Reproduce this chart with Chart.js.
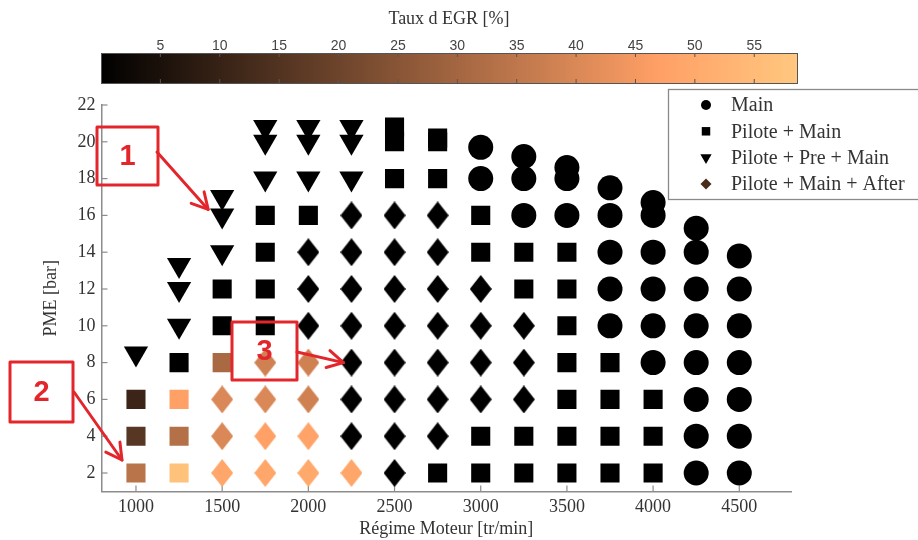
<!DOCTYPE html>
<html>
<head>
<meta charset="utf-8">
<script src="https://cdn.jsdelivr.net/npm/chart.js@4.4.1/dist/chart.umd.min.js"></script>
<style>
  html, body { margin: 0; padding: 0; background: #fff; }
  canvas { display: block; }
</style>
</head>
<body>
<canvas id="myChart" width="918" height="540" style="width:918px;height:540px"></canvas>
<script>
// injection strategies
const seriesNames = ['Main', 'Pilote + Main', 'Pilote + Pre + Main', 'Pilote + Main + After'];

// Main (circles)
const mainRpm = [3000, 3000,
  3250, 3250, 3250,
  3500, 3500, 3500,
  3750, 3750, 3750, 3750, 3750,
  4000, 4000, 4000, 4000, 4000, 4000,
  4250, 4250, 4250, 4250, 4250, 4250, 4250, 4250,
  4500, 4500, 4500, 4500, 4500, 4500, 4500];
const mainPme = [18, 19.7,
  16, 18, 19.2,
  16, 18, 18.6,
  10, 12, 14, 16, 17.5,
  8, 10, 12, 14, 16, 16.7,
  2, 4, 6, 8, 10, 12, 14, 15.3,
  2, 4, 6, 8, 10, 12, 13.8];
const mainEgr = [0, 0,
  0, 0, 0,
  0, 0, 0,
  0, 0, 0, 0, 0,
  0, 0, 0, 0, 0, 0,
  0, 0, 0, 0, 0, 0, 0, 0,
  0, 0, 0, 0, 0, 0, 0];

// Pilote + Main (squares)
const pmRpm = [1000, 1000, 1000,
  1250, 1250, 1250, 1250,
  1500, 1500, 1500,
  1750, 1750, 1750, 1750,
  2000,
  2500, 2500, 2500,
  2750, 2750, 2750, 2750,
  3000, 3000, 3000, 3000,
  3250, 3250, 3250, 3250,
  3500, 3500, 3500, 3500, 3500, 3500, 3500,
  3750, 3750, 3750, 3750,
  4000, 4000, 4000];
const pmPme = [2, 4, 6,
  2, 4, 6, 8,
  8, 10, 12,
  10, 12, 14, 16,
  16,
  18, 20, 20.8,
  2, 18, 20, 20.2,
  2, 4, 14, 16,
  2, 4, 12, 14,
  2, 4, 6, 8, 10, 12, 14,
  2, 4, 6, 8,
  2, 4, 6];
const pmEgr = [34, 16, 11,
  57, 33, 47, 0,
  31, 0, 0,
  0, 0, 0, 0,
  0,
  0, 0, 0,
  0, 0, 0, 0,
  0, 0, 0, 0,
  0, 0, 0, 0,
  0, 0, 0, 0, 0, 0, 0,
  0, 0, 0, 0,
  0, 0, 0];

// Pilote + Pre + Main (triangles)
const ppmRpm = [1000,
  1250, 1250, 1250,
  1500, 1500, 1500,
  1750, 1750, 1750,
  2000, 2000, 2000,
  2250, 2250, 2250];
const ppmPme = [8.5,
  10, 12, 13.3,
  14, 16, 17,
  18, 20, 20.8,
  18, 20, 20.8,
  18, 20, 20.8];
const ppmEgr = [0,
  0, 0, 0,
  0, 0, 0,
  0, 0, 0,
  0, 0, 0,
  0, 0, 0];

// Pilote + Main + After (diamonds)
const pmaRpm = [1500, 1500, 1500,
  1750, 1750, 1750, 1750,
  2000, 2000, 2000, 2000, 2000, 2000, 2000,
  2250, 2250, 2250, 2250, 2250, 2250, 2250, 2250,
  2500, 2500, 2500, 2500, 2500, 2500, 2500, 2500,
  2750, 2750, 2750, 2750, 2750, 2750, 2750,
  3000, 3000, 3000, 3000,
  3250, 3250, 3250];
const pmaPme = [2, 4, 6,
  2, 4, 6, 8,
  2, 4, 6, 8, 10, 12, 14,
  2, 4, 6, 8, 10, 12, 14, 16,
  2, 4, 6, 8, 10, 12, 14, 16,
  4, 6, 8, 10, 12, 14, 16,
  6, 8, 10, 12,
  6, 8, 10];
const pmaEgr = [49, 40, 40,
  49, 47, 40, 38,
  50, 48, 38, 38, 0, 0, 0,
  49, 0, 0, 0, 0, 0, 0, 0,
  0, 0, 0, 0, 0, 0, 0, 0,
  0, 0, 0, 0, 0, 0, 0,
  0, 0, 0, 0,
  0, 0, 0];

const xTicks = [1000, 1500, 2000, 2500, 3000, 3500, 4000, 4500];
const yTicks = [2, 4, 6, 8, 10, 12, 14, 16, 18, 20, 22];
const cbarTicks = [5, 10, 15, 20, 25, 30, 35, 40, 45, 50, 55];
const egrMax = 58.6;

const serif = 'Liberation Serif, Times New Roman, serif';
const red = '#e3262b';

// matlab "copper" colormap
function copper(v) {
  const t = Math.max(0, Math.min(1, v / egrMax));
  const r = Math.round(255 * Math.min(1, 1.25 * t));
  const g = Math.round(255 * 0.7812 * t);
  const b = Math.round(255 * 0.4975 * t);
  return 'rgb(' + r + ',' + g + ',' + b + ')';
}

function pts(rpm, pme) {
  return rpm.map((x, i) => ({x: x, y: pme[i]}));
}

const diamondCache = {};
function diamond(color) {
  if (!diamondCache[color]) {
    const c = document.createElement('canvas');
    c.width = 22; c.height = 28;
    const g = c.getContext('2d');
    g.fillStyle = color;
    g.beginPath();
    g.moveTo(11, 0); g.lineTo(22, 14); g.lineTo(11, 28); g.lineTo(0, 14);
    g.closePath();
    g.fill();
    diamondCache[color] = c;
  }
  return diamondCache[color];
}

// inward tick marks like the matlab axes
const inTicks = {
  id: 'inTicks',
  beforeDatasetsDraw(chart) {
    const {ctx, chartArea: a, scales: {x, y}} = chart;
    ctx.save();
    ctx.strokeStyle = '#8c8c8c';
    ctx.lineWidth = 1.2;
    x.ticks.forEach(t => {
      const px = x.getPixelForValue(t.value);
      ctx.beginPath(); ctx.moveTo(px, a.bottom); ctx.lineTo(px, a.bottom - 6); ctx.stroke();
    });
    y.ticks.forEach(t => {
      const py = y.getPixelForValue(t.value);
      ctx.beginPath(); ctx.moveTo(a.left, py); ctx.lineTo(a.left + 6, py); ctx.stroke();
    });
    ctx.restore();
  }
};

// colour bar on top
const colorBar = {
  id: 'colorBar',
  afterDraw(chart) {
    const ctx = chart.ctx;
    const L = 101, R = 797, T = 53, B = 83;
    ctx.save();
    for (let px = L; px < R; px++) {
      ctx.fillStyle = copper((px - L + 0.5) / (R - L) * egrMax);
      ctx.fillRect(px, T, 1.2, B - T);
    }
    ctx.strokeStyle = '#555';
    ctx.lineWidth = 1;
    ctx.strokeRect(L + 0.5, T + 0.5, R - L, B - T);
    ctx.fillStyle = '#444';
    ctx.font = '14px Liberation Sans, Arial, sans-serif';
    ctx.textAlign = 'center';
    ctx.textBaseline = 'middle';
    cbarTicks.forEach(v => {
      const px = L + v / egrMax * (R - L);
      ctx.beginPath();
      ctx.moveTo(px, T); ctx.lineTo(px, T + 4);
      ctx.moveTo(px, B); ctx.lineTo(px, B - 4);
      ctx.stroke();
      ctx.fillText(String(v), px, 46);
    });
    ctx.fillStyle = '#333';
    ctx.font = '18px ' + serif;
    ctx.fillText('Taux d EGR [%]', 449, 19);
    ctx.restore();
  }
};

// boxed legend, top right
const boxLegend = {
  id: 'boxLegend',
  afterDraw(chart) {
    const ctx = chart.ctx;
    const styles = [
      {pointStyle: 'circle', radius: 5, rotation: 0, color: '#000'},
      {pointStyle: 'rect', radius: 6, rotation: 0, color: '#000'},
      {pointStyle: 'triangle', radius: 6.5, rotation: 180, color: '#000'},
      {pointStyle: 'rectRot', radius: 5.5, rotation: 0, color: '#4a2c1c'}
    ];
    ctx.save();
    ctx.fillStyle = '#fff';
    ctx.fillRect(668, 89, 262, 110);
    ctx.strokeStyle = '#8a8a8a';
    ctx.lineWidth = 1.3;
    ctx.strokeRect(668.5, 89.5, 262, 110);
    seriesNames.forEach((name, i) => {
      const cy = 105 + i * 26.3;
      const s = styles[i];
      ctx.fillStyle = s.color;
      Chart.helpers.drawPoint(ctx, {pointStyle: s.pointStyle, radius: s.radius, rotation: s.rotation, borderWidth: 0}, 706, cy);
      ctx.fillStyle = '#333';
      ctx.font = '20px ' + serif;
      ctx.textAlign = 'left';
      ctx.textBaseline = 'middle';
      ctx.fillText(name, 731, cy + 1);
    });
    ctx.restore();
  }
};

// the red numbered boxes and arrows
const notes = [
  {text: '1', box: [97, 127, 61, 58], from: [157, 152], tip: {x: 1500, y: 16, dx: -14, dy: -6}},
  {text: '2', box: [10, 362, 63, 60], from: [74, 392], tip: {x: 1000, y: 2, dx: -14, dy: -13}},
  {text: '3', box: [232, 322, 65, 58], from: [297, 352], tip: {x: 2250, y: 8, dx: -8, dy: 0}}
];
const redNotes = {
  id: 'redNotes',
  afterDraw(chart) {
    const {ctx, scales: {x, y}} = chart;
    ctx.save();
    ctx.strokeStyle = red;
    ctx.fillStyle = red;
    ctx.lineWidth = 3;
    ctx.lineCap = 'round';
    ctx.lineJoin = 'round';
    notes.forEach(n => {
      const [bx, by, bw, bh] = n.box;
      ctx.strokeRect(bx, by, bw, bh);
      ctx.font = 'bold 29px Liberation Sans, Arial, sans-serif';
      ctx.textAlign = 'center';
      ctx.textBaseline = 'middle';
      ctx.fillText(n.text, bx + bw / 2, by + bh / 2 + 1);
      const tx = x.getPixelForValue(n.tip.x) + n.tip.dx;
      const ty = y.getPixelForValue(n.tip.y) + n.tip.dy;
      const [fx, fy] = n.from;
      ctx.beginPath(); ctx.moveTo(fx, fy); ctx.lineTo(tx, ty); ctx.stroke();
      const ang = Math.atan2(ty - fy, tx - fx);
      ctx.beginPath();
      ctx.moveTo(tx - 18 * Math.cos(ang - 0.5), ty - 18 * Math.sin(ang - 0.5));
      ctx.lineTo(tx, ty);
      ctx.lineTo(tx - 18 * Math.cos(ang + 0.5), ty - 18 * Math.sin(ang + 0.5));
      ctx.stroke();
    });
    ctx.restore();
  }
};

function makeChart() {
  const ctx = document.getElementById('myChart');
  new Chart(ctx, {
    type: 'scatter',
    data: {
      datasets: [
        {
          label: seriesNames[0],
          data: pts(mainRpm, mainPme),
          pointStyle: 'circle',
          pointRadius: 12.5,
          pointHoverRadius: 12.5,
          pointBorderWidth: 0,
          pointBackgroundColor: c => copper(mainEgr[c.dataIndex])
        },
        {
          label: seriesNames[1],
          data: pts(pmRpm, pmPme),
          pointStyle: 'rect',
          pointRadius: 13.5,
          pointHoverRadius: 13.5,
          pointBorderWidth: 0,
          pointBackgroundColor: c => copper(pmEgr[c.dataIndex])
        },
        {
          label: seriesNames[2],
          data: pts(ppmRpm, ppmPme),
          pointStyle: 'triangle',
          pointRotation: 180,
          pointRadius: 14,
          pointHoverRadius: 14,
          pointBorderWidth: 0,
          pointBackgroundColor: c => copper(ppmEgr[c.dataIndex])
        },
        {
          label: seriesNames[3],
          data: pts(pmaRpm, pmaPme),
          pointStyle: c => diamond(copper(pmaEgr[c.dataIndex])),
          pointRadius: 14,
          pointBorderWidth: 0,
          pointBackgroundColor: c => copper(pmaEgr[c.dataIndex])
        }
      ]
    },
    options: {
      responsive: false,
      animation: false,
      events: [],
      layout: {padding: {left: 0, right: 127, top: 105, bottom: 0}},
      plugins: {
        legend: {display: false},
        tooltip: {enabled: false}
      },
      scales: {
        x: {
          type: 'linear',
          min: 800,
          max: 4800,
          afterBuildTicks: s => { s.ticks = xTicks.map(v => ({value: v})); },
          afterFit: s => { s.height = 48.6; },
          grid: {display: false, drawTicks: false},
          border: {color: '#8c8c8c', width: 1.5},
          ticks: {font: {family: serif, size: 18}, color: '#333', padding: 5, maxRotation: 0, callback: v => String(v)},
          title: {display: true, text: 'Régime Moteur [tr/min]', font: {family: serif, size: 18}, color: '#333', padding: {top: 0, bottom: 0}}
        },
        y: {
          min: 1,
          max: 22,
          afterBuildTicks: s => { s.ticks = yTicks.map(v => ({value: v})); },
          afterFit: s => { s.width = 101.5; },
          grid: {display: false, drawTicks: false},
          border: {color: '#8c8c8c', width: 1.5},
          ticks: {font: {family: serif, size: 18}, color: '#333', padding: 6, callback: v => String(v)},
          title: {display: true, text: 'PME [bar]', font: {family: serif, size: 18}, color: '#333', padding: {top: 40, bottom: 0}}
        }
      }
    },
    plugins: [inTicks, colorBar, boxLegend, redNotes]
  });
}

makeChart();
</script>
</body>
</html>
